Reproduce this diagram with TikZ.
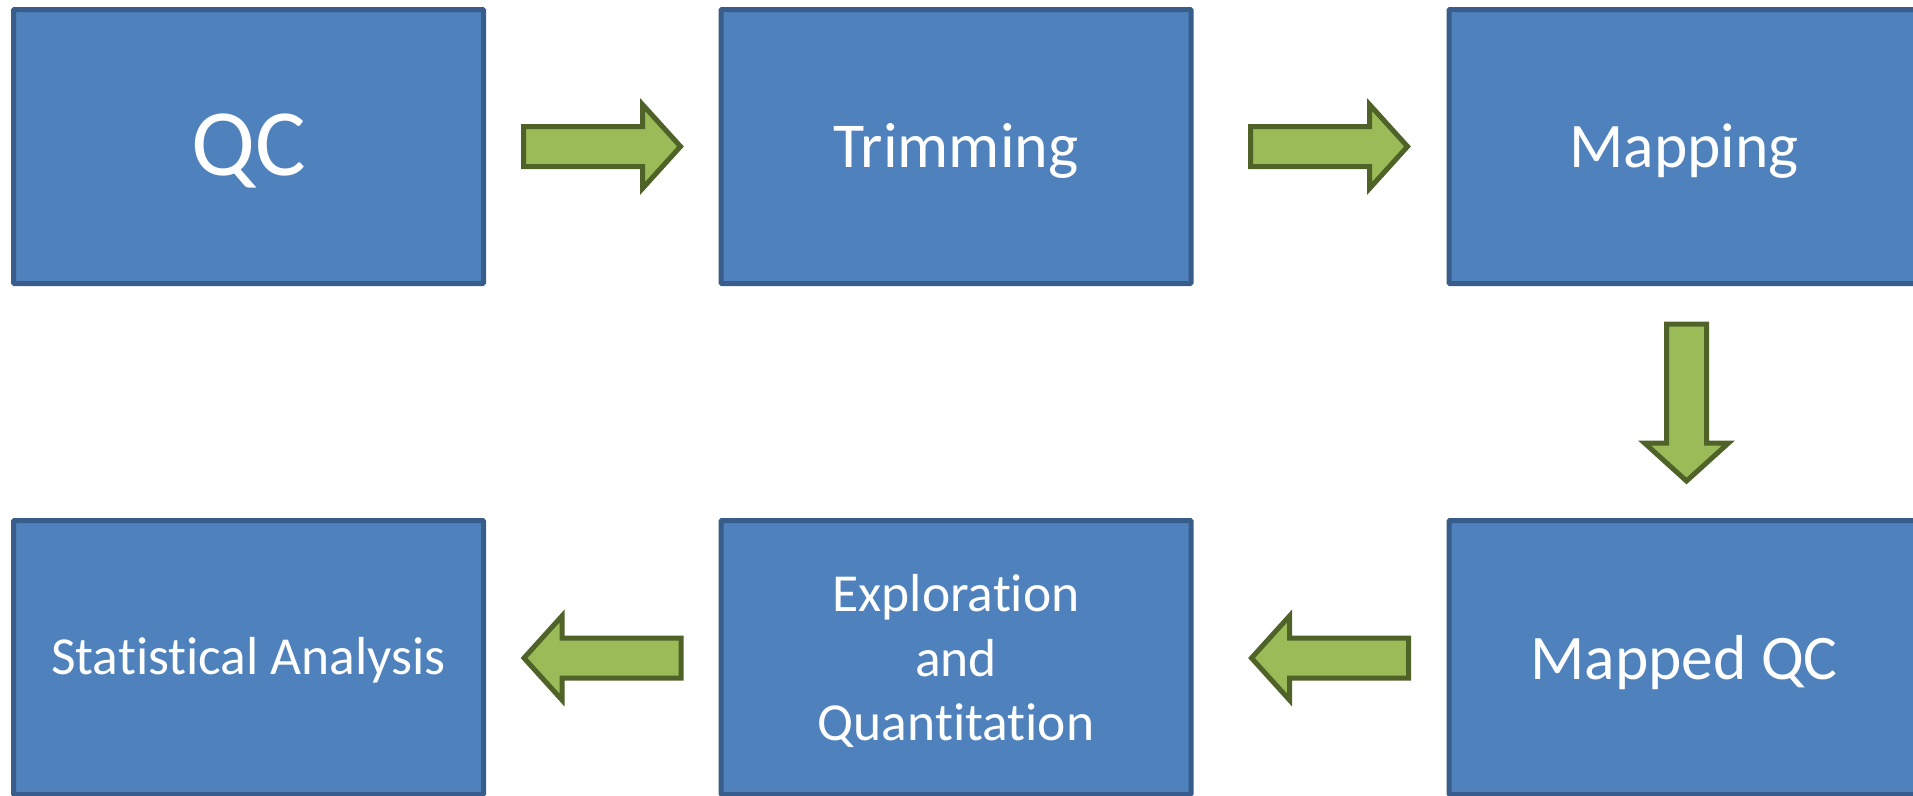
\documentclass[tikz,border=0pt]{standalone}
\usepackage{fontspec}
\setmainfont{Carlito}[Ligatures={NoCommon}]
\definecolor{boxfill}{HTML}{4F81BD}
\definecolor{boxline}{HTML}{385D8A}
\definecolor{arrfill}{HTML}{9BBB59}
\definecolor{arrline}{HTML}{4F6228}
\begin{document}
\begin{tikzpicture}[x=1pt,y=-1pt,
  stagebox/.style={draw=boxline,fill=boxfill,line width=5pt,minimum width=470pt,minimum height=274pt,inner sep=0pt,rounded corners=1pt},
  stagetext/.style={text=white,align=center,inner sep=0pt},
  blockarrow/.pic={\draw[draw=arrline,fill=arrfill,line width=5pt,line join=miter]
     (-79,-20)--(40,-20)--(40,-42)--(78,0)--(40,42)--(40,20)--(-79,20)--cycle;}
]
\useasboundingbox (0,0) rectangle (1913,795);
\clip (0,0) rectangle (1913,795);
\node[stagebox] (qc) at (248.5,146.5) {};
\node[stagebox] (trim) at (956,146.5) {};
\node[stagebox] (map) at (1684,146.5) {};
\node[stagebox] (mqc) at (1684,657.5) {};
\node[stagebox] (expl) at (956,657.5) {};
\node[stagebox] (stat) at (248.5,657.5) {};
\node[stagetext,font=\fontsize{95}{114}\selectfont,yshift=-4pt] (qct) at (qc.center) {QC};
\node[stagetext,font=\fontsize{64}{77}\selectfont,yshift=-4.5pt] (trimt) at (trim.center) {Trimming};
\node[stagetext,font=\fontsize{63.5}{77}\selectfont,yshift=-4.5pt] (mapt) at (map.center) {Mapping};
\node[stagetext,font=\fontsize{63.5}{77}\selectfont,yshift=-5.5pt] (mqct) at (mqc.center) {Mapped QC};
\node[stagetext,font=\fontsize{53.5}{64.5}\selectfont,yshift=-3.5pt] (explt) at (expl.center) {Exploration\\and\\Quantitation};
\node[stagetext,font=\fontsize{53.5}{64}\selectfont,yshift=-3pt] (statt) at (stat.center) {Statistical Analysis};
\pic at (602.5,146.5) {blockarrow};
\pic at (1329.5,146.5) {blockarrow};
\pic[rotate=-90] at (1686.5,403) {blockarrow};
\pic[rotate=180] at (1329.5,658) {blockarrow};
\pic[rotate=180] at (602,658) {blockarrow};
\end{tikzpicture}
\end{document}
